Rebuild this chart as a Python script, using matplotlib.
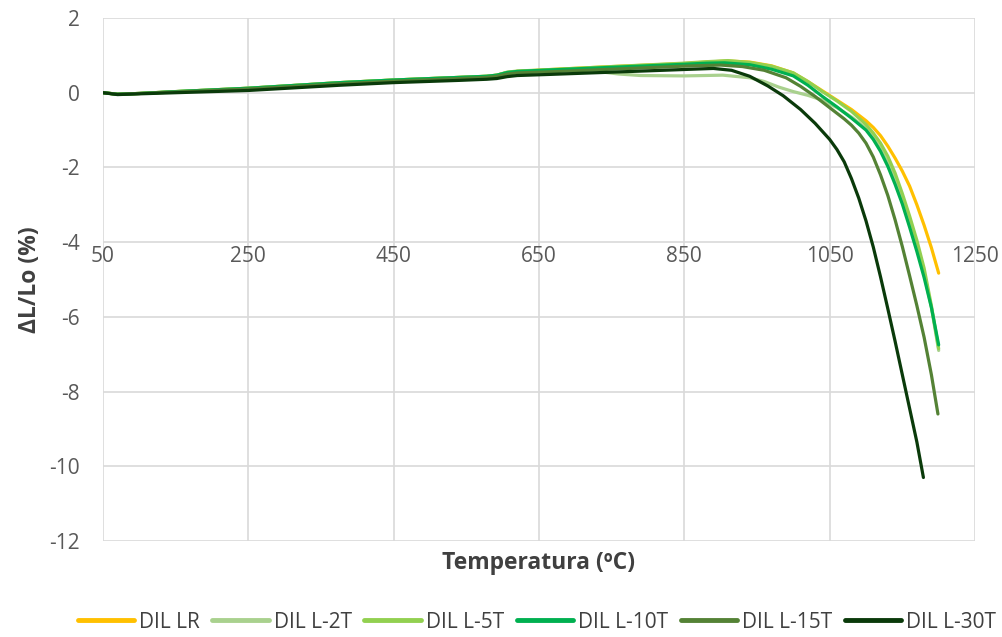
import matplotlib
matplotlib.use("Agg")
import matplotlib.pyplot as plt

# ---- data ----
T_LR = [50, 70, 100, 150, 250, 376, 450, 540, 578, 592, 606, 620, 665, 750, 848, 880, 910, 940, 970, 1000, 1020, 1040, 1060, 1080, 1100, 1110, 1120, 1130, 1140, 1150, 1160, 1170, 1180, 1190, 1200]
Y_LR = [0.0, -0.04, -0.02, 0.03, 0.12, 0.27, 0.34, 0.41, 0.44, 0.47, 0.54, 0.57, 0.62, 0.70, 0.78, 0.82, 0.85, 0.82, 0.72, 0.53, 0.30, 0.05, -0.2, -0.45, -0.75, -0.93, -1.15, -1.43, -1.75, -2.1, -2.5, -3.0, -3.55, -4.15, -4.83]

T_2T = [50, 70, 100, 150, 250, 376, 450, 540, 578, 592, 606, 620, 665, 700, 730, 760, 790, 850, 903, 940, 960, 980, 1000, 1020, 1040, 1060, 1080, 1100, 1110, 1120, 1130, 1140, 1150, 1160, 1170, 1180, 1190, 1200]
Y_2T = [0.0, -0.04, -0.02, 0.03, 0.12, 0.27, 0.34, 0.41, 0.44, 0.47, 0.54, 0.57, 0.60, 0.60, 0.57, 0.50, 0.46, 0.45, 0.47, 0.40, 0.30, 0.15, 0.03, -0.07, -0.2, -0.4, -0.65, -0.95, -1.2, -1.5, -1.87, -2.3, -2.85, -3.45, -4.12, -4.85, -5.75, -6.9]

T_5T = [50, 70, 100, 150, 250, 376, 450, 540, 578, 592, 606, 620, 665, 750, 848, 880, 910, 940, 970, 1000, 1020, 1040, 1060, 1080, 1100, 1110, 1120, 1130, 1140, 1150, 1160, 1170, 1180, 1190, 1200]
Y_5T = [0.0, -0.04, -0.02, 0.03, 0.12, 0.27, 0.34, 0.41, 0.44, 0.47, 0.55, 0.58, 0.62, 0.70, 0.79, 0.83, 0.86, 0.81, 0.71, 0.53, 0.30, 0.03, -0.22, -0.5, -0.85, -1.08, -1.35, -1.7, -2.15, -2.7, -3.3, -3.95, -4.7, -5.7, -6.85]

T_10T = [50, 70, 100, 150, 250, 376, 450, 540, 578, 592, 606, 620, 665, 750, 848, 880, 905, 940, 970, 1000, 1020, 1040, 1060, 1080, 1100, 1110, 1120, 1130, 1140, 1150, 1160, 1170, 1180, 1190, 1200]
Y_10T = [0.0, -0.04, -0.02, 0.03, 0.12, 0.27, 0.34, 0.41, 0.44, 0.47, 0.54, 0.57, 0.61, 0.68, 0.76, 0.79, 0.80, 0.75, 0.63, 0.45, 0.2, -0.1, -0.38, -0.68, -1.0, -1.25, -1.57, -1.97, -2.45, -2.98, -3.6, -4.25, -4.95, -5.75, -6.75]

T_15T = [50, 70, 100, 150, 250, 376, 450, 540, 578, 592, 606, 620, 665, 750, 848, 880, 900, 930, 960, 990, 1010, 1030, 1050, 1070, 1080, 1090, 1100, 1110, 1120, 1130, 1140, 1150, 1160, 1170, 1180, 1190, 1199]
Y_15T = [0.0, -0.04, -0.02, 0.02, 0.10, 0.24, 0.31, 0.38, 0.41, 0.44, 0.50, 0.53, 0.56, 0.63, 0.71, 0.73, 0.74, 0.70, 0.60, 0.40, 0.17, -0.1, -0.4, -0.7, -0.87, -1.08, -1.35, -1.72, -2.2, -2.75, -3.4, -4.12, -4.9, -5.7, -6.55, -7.55, -8.6]

T_30T = [50, 70, 100, 150, 250, 376, 450, 540, 578, 592, 606, 620, 665, 750, 848, 890, 915, 940, 965, 986, 1010, 1030, 1050, 1060, 1070, 1080, 1090, 1100, 1110, 1120, 1130, 1140, 1150, 1160, 1170, 1179]
Y_30T = [0.0, -0.05, -0.03, 0.0, 0.06, 0.20, 0.27, 0.33, 0.36, 0.38, 0.43, 0.46, 0.49, 0.55, 0.62, 0.65, 0.60, 0.44, 0.18, -0.08, -0.45, -0.82, -1.25, -1.52, -1.85, -2.3, -2.82, -3.43, -4.13, -4.93, -5.78, -6.65, -7.55, -8.45, -9.35, -10.3]

SERIES = ["DIL LR", "DIL L-2T", "DIL L-5T", "DIL L-10T", "DIL L-15T", "DIL L-30T"]
COLORS = ["#FFC000", "#A9D18E", "#92D050", "#00B050", "#548235", "#0A3A0A"]

X_TICKS = [50, 250, 450, 650, 850, 1050, 1250]
Y_TICKS = [2, 0, -2, -4, -6, -8, -10, -12]

plt.rcParams['font.family'] = ['Open Sans', 'DejaVu Sans']
plt.rcParams['axes.unicode_minus'] = False

fig = plt.figure(figsize=(10.02, 6.37), dpi=100)
ax = fig.add_axes([103/1002, 1-541/637, (975-103)/1002, (541-18)/637])

data = [(T_LR, Y_LR), (T_2T, Y_2T), (T_5T, Y_5T), (T_10T, Y_10T), (T_15T, Y_15T), (T_30T, Y_30T)]
for (t, y), name, c in zip(data, SERIES, COLORS):
    ax.plot(t, y, color=c, lw=2.3, label=name, solid_capstyle='round', solid_joinstyle='round')

ax.set_xlim(50, 1250)
ax.set_ylim(-12, 2)
ax.set_xticks(X_TICKS)
ax.set_yticks(Y_TICKS)
ax.grid(True, color='#D9D9D9', lw=1.2)
ax.set_axisbelow(True)
for s in ['top', 'right', 'left', 'bottom']:
    ax.spines[s].set_visible(False)
ax.spines['bottom'].set_position(('data', -4))
ax.tick_params(axis='both', length=0, labelsize=15, labelcolor='#595959')
ax.tick_params(axis='y', pad=16.5)
ax.tick_params(axis='x', pad=3)

fig.text(30/1002, 1-280/637, "ΔL/Lo (%)", rotation=90, ha='center', va='center',
         fontsize=16.5, fontweight='bold', color='#404040')
fig.text(538/1002, 1-563/637, "Temperatura (ºC)", ha='center', va='center',
         fontsize=16.5, fontweight='bold', color='#404040')

leg = fig.legend(*ax.get_legend_handles_labels(), loc='center', ncol=6,
                 bbox_to_anchor=(537/1002, 1-622/637), frameon=False,
                 fontsize=15, handlelength=2.7, columnspacing=0.6, handletextpad=0.25,
                 borderpad=0.1)
for txt in leg.get_texts():
    txt.set_color('#404040')
for line in leg.get_lines():
    line.set_linewidth(3.5)

fig.savefig("out.png", dpi=100)
